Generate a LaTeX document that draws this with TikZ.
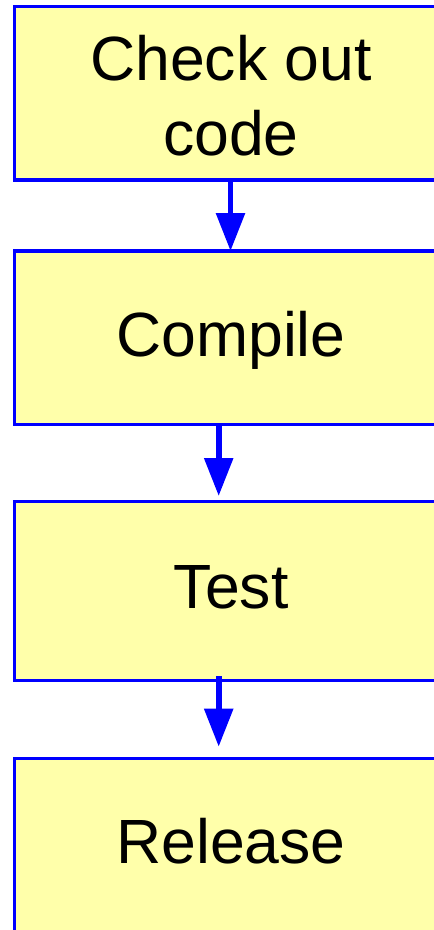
\documentclass[tikz,border=0pt]{standalone}
\usepackage{fontspec}
\setmainfont{Liberation Sans}
\usetikzlibrary{arrows.meta}
\definecolor{boxfill}{HTML}{FFFFAA}
\definecolor{boxblue}{HTML}{0000FF}
\tikzset{
  stepbox/.style={draw=boxblue, fill=boxfill, line width=3.5pt, rectangle,
    minimum width=433.4pt, inner sep=0pt, outer sep=0pt,
    font=\fontsize{62.5}{75}\selectfont, align=center, text depth=0pt},
  flowarrow/.style={draw=boxblue, line width=5.7pt,
    -{Triangle[width=28pt,length=38pt]}, fill=boxblue}
}
\begin{document}
\begin{tikzpicture}[x=1pt,y=-1pt]
\useasboundingbox (0,0) rectangle (434,930);
\node[stepbox, minimum height=173.7pt, text height=123.6pt] (b1) at (231,93.2) {Check out\\code};
\node[stepbox, minimum height=173.3pt, text height=38pt] (b2) at (231,337.7) {Compile};
\node[stepbox, minimum height=178.8pt, text height=34.4pt] (b3) at (231,591.1) {Test};
\node[stepbox, minimum height=175pt, text height=35pt] (b4) at (231,845.8) {Release};
\draw[flowarrow] ([xshift=-0.5pt]b1.south) -- ([xshift=-0.5pt]b2.north);
\draw[flowarrow, shorten >=5.7pt] ([xshift=-12.3pt]b2.south) -- ([xshift=-12.3pt]b3.north);
\draw[flowarrow, shorten <=-4.5pt, shorten >=11.6pt] ([xshift=-12.3pt]b3.south) -- ([xshift=-12.3pt]b4.north);
\end{tikzpicture}
\end{document}
